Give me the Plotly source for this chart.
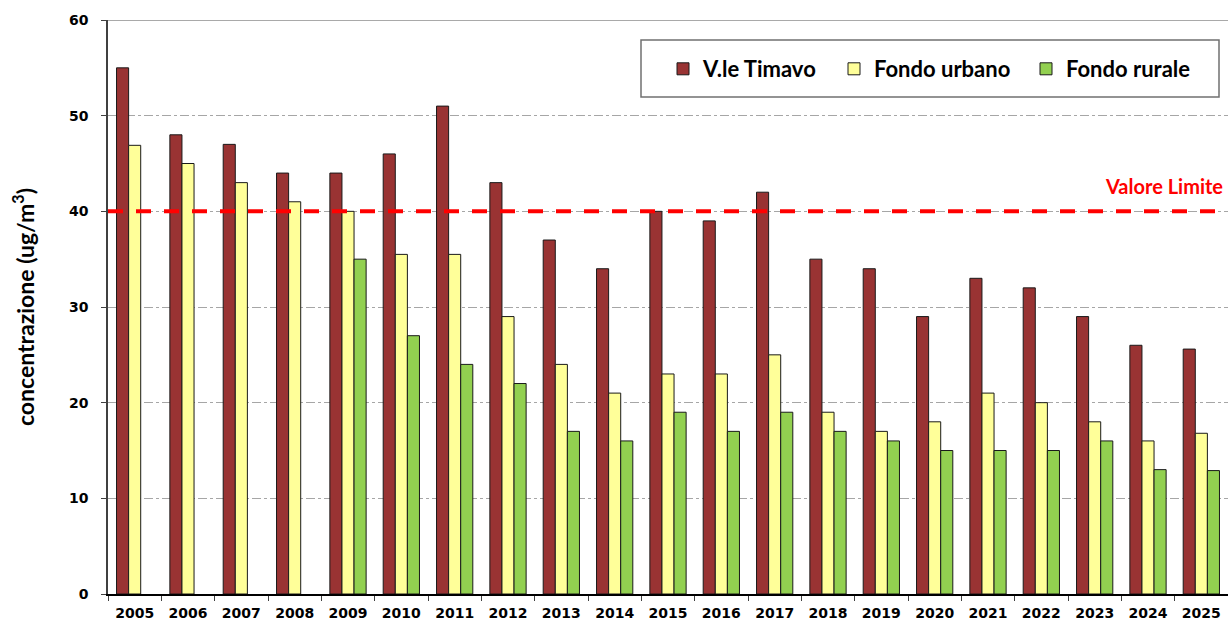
import plotly.graph_objects as go

years = [str(y) for y in range(2005, 2026)]
timavo = [55, 48, 47, 44, 44, 46, 51, 43, 37, 34, 40, 39, 42, 35, 34, 29, 33, 32, 29, 26, 25.6]
urbano = [46.9, 45, 43, 41, 40, 35.5, 35.5, 29, 24, 21, 23, 23, 25, 19, 17, 18, 21, 20, 18, 16, 16.8]
rurale = [None, None, None, None, 35, 27, 24, 22, 17, 16, 19, 17, 19, 17, 16, 15, 15, 15, 16, 13, 12.9]
limit_value = 40
y_ticks = [0, 10, 20, 30, 40, 50, 60]

W, H = 1228, 628
L, R, T, B = 108, 0, 20, 34
PW, PH = W - L - R, H - T - B


def px(xp):
    return (xp - L) / PW


def py(yp):
    return (H - B - yp) / PH


fig = go.Figure()
line = dict(color="#1a1a1a", width=1)
fig.add_bar(x=years, y=timavo, name="V.le Timavo", legend="legend",
            marker=dict(color="#993333", line=line))
fig.add_bar(x=years, y=urbano, name="Fondo urbano", legend="legend2",
            marker=dict(color="#FFFF99", line=line))
fig.add_bar(x=years, y=rurale, name="Fondo rurale", legend="legend3",
            marker=dict(color="#92D050", line=line))

fig.add_shape(type="line", xref="paper", yref="y", x0=0, x1=1, y0=limit_value, y1=limit_value,
              line=dict(color="#FF0000", width=4, dash="15px,13px"), layer="above")
fig.add_shape(type="line", xref="paper", yref="y", x0=0, x1=1, y0=60, y1=60,
              line=dict(color="#8c8c8c", width=1.5), layer="above")
fig.add_annotation(text="<b>Valore Limite</b>", xref="paper", yref="y", x=px(1225), y=42.7,
                   xanchor="right", yanchor="middle", showarrow=False,
                   font=dict(family="Lato", size=20, color="#FF0000", weight="bold"))

# legend box
fig.add_shape(type="rect", xref="paper", yref="paper",
              x0=px(641), x1=px(1219), y0=py(97), y1=py(40),
              line=dict(color="#707070", width=1.5), fillcolor="white", layer="below")

leg_font = dict(family="Lato", size=22, color="black", weight="bold")


def leg(text_left):
    return dict(orientation="h", x=px(text_left - 39), y=py(69), xanchor="left", yanchor="middle",
                bgcolor="rgba(0,0,0,0)", borderwidth=0, font=leg_font, itemwidth=30)


fig.update_layout(
    width=W, height=H,
    margin=dict(l=L, r=R, t=T, b=B),
    plot_bgcolor="white", paper_bgcolor="white",
    barmode="group", bargap=0.32, bargroupgap=0,
    showlegend=True,
    legend=leg(702),
    legend2=leg(873),
    legend3=leg(1065),
    xaxis=dict(type="category", showline=True, linecolor="black", linewidth=1.5,
               ticks="outside", tickson="boundaries", ticklen=5, tickcolor="#404040",
               ticklabelstandoff=5,
               tickfont=dict(family="DejaVu Sans", size=14, color="black", weight="bold"),
               showgrid=False),
    yaxis=dict(range=[0, 60], tickvals=y_ticks, showline=True, linecolor="#404040", linewidth=1.5,
               ticks="outside", ticklen=5, tickcolor="#404040", ticklabelstandoff=10,
               tickfont=dict(family="DejaVu Sans", size=14, color="black", weight="bold"),
               showgrid=True, gridcolor="#a6a6a6", gridwidth=1, griddash="dashdot",
               zeroline=False,
               title=dict(text="<b>concentrazione (ug/m<sup>3</sup>)</b>", standoff=28,
                          font=dict(family="Lato", size=23, color="black", weight="bold"))),
)

fig.write_html("out.html", config={"displayModeBar": False},
               post_script="document.body.style.margin='0';document.body.style.overflow='hidden';")
